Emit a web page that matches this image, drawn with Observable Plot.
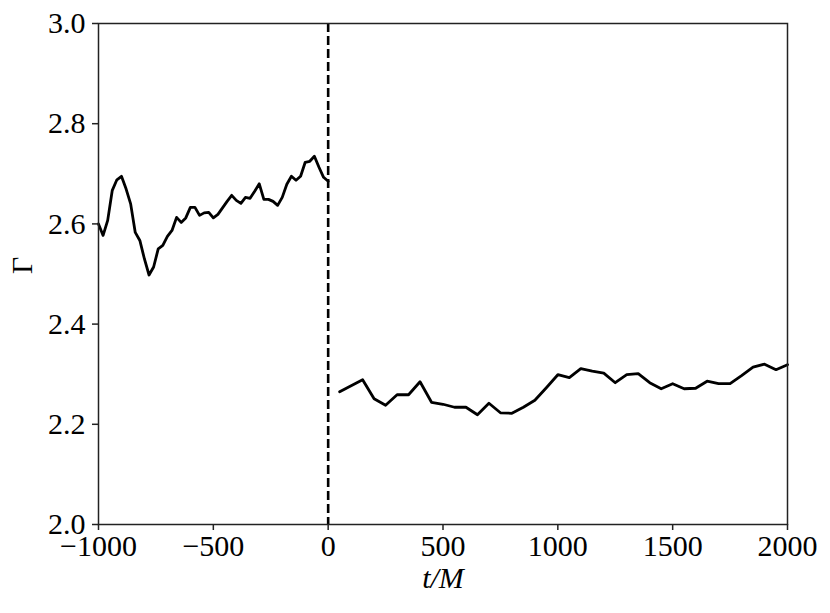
<!DOCTYPE html>
<html>
<head>
<meta charset="utf-8">
<script src="https://cdn.jsdelivr.net/npm/d3@7"></script>
<script src="https://cdn.jsdelivr.net/npm/@observablehq/plot@0.6"></script>
<style>
  html, body { margin: 0; padding: 0; background: #fff; }
</style>
</head>
<body>
<div id="chart"></div>
<script>
// Pre-merger: t from -1000 to 0, step 20
const preT = d3.range(-1000, 1, 20);
const preGamma = [
  2.600, 2.577, 2.607, 2.667, 2.688, 2.695, 2.670, 2.640, 2.583, 2.567,
  2.530, 2.498, 2.514, 2.550, 2.557, 2.575, 2.587, 2.613, 2.603, 2.612,
  2.633, 2.633, 2.617, 2.622, 2.623, 2.612, 2.619, 2.632, 2.645, 2.657,
  2.647, 2.641, 2.653, 2.651, 2.665, 2.680, 2.649, 2.649, 2.645, 2.637,
  2.653, 2.679, 2.695, 2.687, 2.695, 2.723, 2.725, 2.735, 2.713, 2.693,
  2.685
];
// Post-merger: t from 50 to 2000, step 50
const postT = d3.range(50, 2001, 50);
const postGamma = [
  2.265, 2.277, 2.289, 2.251, 2.238, 2.259, 2.259, 2.285, 2.244, 2.240,
  2.234, 2.234, 2.219, 2.242, 2.223, 2.222, 2.234, 2.248, 2.273, 2.299,
  2.293, 2.311, 2.306, 2.302, 2.283, 2.299, 2.301, 2.283, 2.271, 2.281,
  2.271, 2.272, 2.286, 2.281, 2.281, 2.297, 2.314, 2.320, 2.309, 2.319
];
const xTicks = [-1000, -500, 0, 500, 1000, 1500, 2000];
const yTicks = [2.0, 2.2, 2.4, 2.6, 2.8, 3.0];
const mergerT = [0];

const pre = preT.map((t, i) => ({t, g: preGamma[i]}));
const post = postT.map((t, i) => ({t, g: postGamma[i]}));

const font = "'Liberation Serif', 'DejaVu Serif', serif";
const fmtX = d => d < 0 ? "\u2212" + Math.abs(d) : String(d);

const chart = Plot.plot({
  width: 830,
  height: 613,
  marginLeft: 98,
  marginRight: 43,
  marginTop: 23,
  marginBottom: 89,
  style: {fontFamily: font, fontSize: "30px", color: "#000", background: "#fff"},
  x: {domain: [-1000, 2000]},
  y: {domain: [2.0, 3.0]},
  marks: [
    Plot.ruleX(mergerT, {stroke: "#000", strokeWidth: 2.6, strokeDasharray: "9,4"}),
    Plot.line(pre, {x: "t", y: "g", stroke: "#000", strokeWidth: 2.8, strokeLinejoin: "round"}),
    Plot.line(post, {x: "t", y: "g", stroke: "#000", strokeWidth: 2.8, strokeLinejoin: "round"}),
    Plot.frame({stroke: "#222", strokeWidth: 1.5}),
    Plot.axisX(xTicks, {tickSize: 6, tickPadding: 4, label: null, tickFormat: fmtX, fontSize: 30, stroke: "#222", strokeWidth: 1.5}),
    Plot.axisY(yTicks, {tickSize: 6, tickPadding: 7, label: null, tickFormat: d3.format(".1f"), fontSize: 30, stroke: "#222", strokeWidth: 1.5}),
    Plot.text(["t/M"], {frameAnchor: "bottom", dy: 63, fontSize: 30, fontStyle: "italic", fill: "#000"}),
    Plot.text(["Γ"], {frameAnchor: "left", dx: -76, rotate: -90, fontSize: 30, fill: "#000"})
  ]
});
document.getElementById("chart").appendChild(chart);
</script>
</body>
</html>
